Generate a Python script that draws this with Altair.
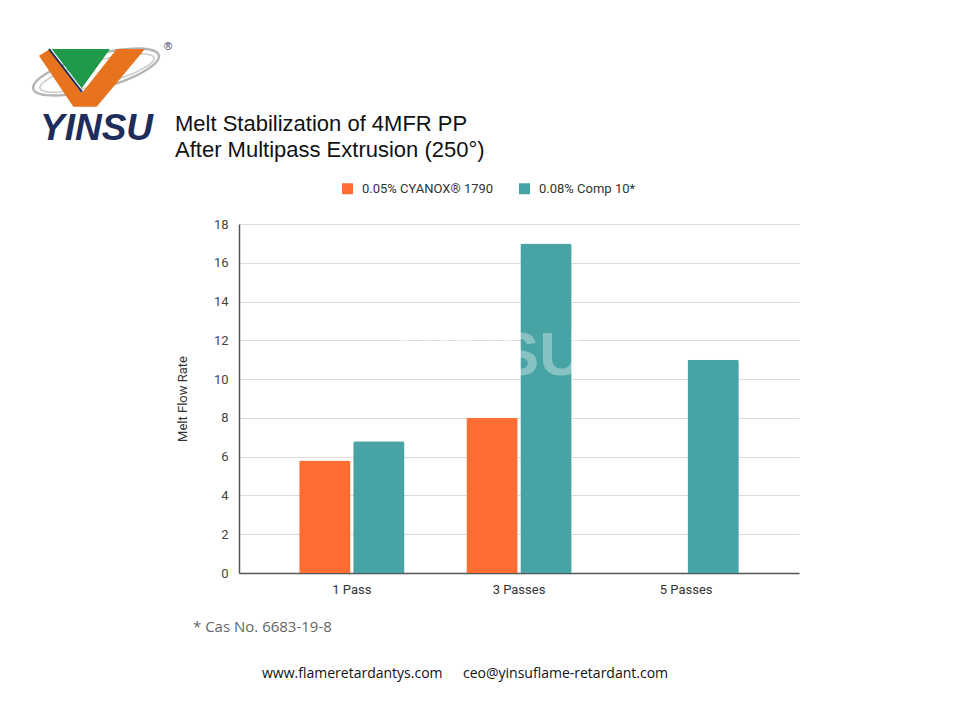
import altair as alt
import pandas as pd
import numpy as np

# ---- data ----
categories = ["1 Pass", "3 Passes", "5 Passes"]
series = ["0.05% CYANOX® 1790", "0.08% Comp 10*"]
cyanox_vals = [5.8, 8.0, None]
comp10_vals = [6.8, 17.0, 11.0]
colors = ["#FF6D33", "#48A3A5"]

title_lines = ["Melt Stabilization of 4MFR PP", "After Multipass Extrusion (250°)"]
y_title = "Melt Flow Rate"
footnote = "* Cas No. 6683-19-8"
footer_site = "www.flameretardantys.com"
footer_mail = "ceo@yinsuflame-retardant.com"
brand = "YINSU"

rows = []
for cat, a, b in zip(categories, cyanox_vals, comp10_vals):
    if a is not None:
        rows.append({"cat": cat, "series": series[0], "value": a})
    if b is not None:
        rows.append({"cat": cat, "series": series[1], "value": b})
df = pd.DataFrame(rows)

# plot origin on page is (239, 224)
OX, OY = 239, 224
W, H = 560, 349


def P(x, y):
    return f"{x - OX:.1f} {y - OY:.1f}"


bars = alt.Chart(df).mark_bar(cornerRadiusTopLeft=2, cornerRadiusTopRight=2).encode(
    x=alt.X("cat:N", sort=categories, title=None,
            scale=alt.Scale(paddingInner=0.37, paddingOuter=0.36),
            axis=alt.Axis(labelAngle=0, labelFontSize=13, labelColor="#333",
                          labelFont="Roboto", ticks=False, tickSize=0, labelPadding=10,
                          domainColor="#555", domainWidth=1.5, grid=False)),
    xOffset=alt.XOffset("series:N", sort=series,
                        scale=alt.Scale(paddingInner=0.05, paddingOuter=0)),
    y=alt.Y("value:Q", title=y_title,
            scale=alt.Scale(domain=[0, 18], nice=False),
            axis=alt.Axis(values=list(range(0, 19, 2)), labelFontSize=13, labelColor="#444",
                          labelFont="Roboto", ticks=False, tickSize=0, labelPadding=11,
                          domainColor="#555", domainWidth=1.5, gridColor="#DADADA",
                          titleFont="Roboto", titleFontSize=13, titleFontWeight="normal",
                          titleColor="#333", titlePadding=24)),
    color=alt.Color("series:N", sort=series,
                    scale=alt.Scale(domain=series, range=colors),
                    legend=alt.Legend(orient="none", legendX=102, legendY=-42,
                                      direction="horizontal", title=None,
                                      symbolType="square", symbolSize=121,
                                      symbolStrokeWidth=0, labelFont="Roboto",
                                      labelFontSize=13, labelColor="#333",
                                      labelOffset=8, columnPadding=24, padding=0)),
)

one = pd.DataFrame({"k": [0]})

# ---- logo (decoration) ----
def ellipse_path(cx, cy, rx, ry, deg):
    t = np.linspace(0, 2 * np.pi, 60)
    a = np.deg2rad(deg)
    xs = cx + rx * np.cos(t) * np.cos(a) - ry * np.sin(t) * np.sin(a)
    ys = cy + rx * np.cos(t) * np.sin(a) + ry * np.sin(t) * np.cos(a)
    pts = [P(x, y) for x, y in zip(xs, ys)]
    return "M" + " L".join(pts) + " Z"

swoosh1 = alt.Chart(one).mark_point(shape=ellipse_path(96, 72, 65, 17, -15), size=4,
                                    filled=False, stroke="#B5B5B5", strokeWidth=2.4,
                                    opacity=1).encode(x=alt.value(0), y=alt.value(0))
swoosh2 = alt.Chart(one).mark_point(shape=ellipse_path(97, 73, 59, 12, -15), size=4,
                                    filled=False, stroke="#CCCCCC", strokeWidth=1.6,
                                    opacity=1).encode(x=alt.value(0), y=alt.value(0))
v_path = ("M" + P(39, 55.7) + " L" + P(50, 49) + " L" + P(81.7, 93.3) + " L" + P(116.7, 49)
          + " L" + P(145, 49) + " L" + P(96.7, 106.7) + " L" + P(73.3, 106.7) + " Z")
v_shape = alt.Chart(one).mark_point(shape=v_path, size=4, filled=True, fill="#E8731E",
                                    strokeWidth=0, opacity=1).encode(x=alt.value(0), y=alt.value(0))
g_path = "M" + P(51.7, 49) + " L" + P(110, 49) + " L" + P(81.7, 88.3) + " Z"
g_shape = alt.Chart(one).mark_point(shape=g_path, size=4, filled=True, fill="#1E9A4A",
                                    strokeWidth=0, opacity=1).encode(x=alt.value(0), y=alt.value(0))
n_path = "M" + P(49, 49) + " L" + P(82, 92)
n_line = alt.Chart(one).mark_point(shape=n_path, size=4, filled=False, stroke="#1F2D5C",
                                   strokeWidth=2, opacity=1).encode(x=alt.value(0), y=alt.value(0))
reg = alt.Chart(one).mark_text(text="®", fontSize=11, color="#1F2D5C", align="center",
                               baseline="middle").encode(x=alt.value(168 - OX), y=alt.value(47 - OY))
brand_t = alt.Chart(one).mark_text(text=brand, font="Liberation Sans", fontSize=37,
                                   fontWeight="bold", fontStyle="italic", color="#1F2D5C",
                                   align="left", baseline="alphabetic").encode(
    x=alt.value(40 - OX), y=alt.value(140 - OY))

watermark = alt.Chart(one).mark_text(text=brand, font="Liberation Sans", fontSize=62,
                                     fontWeight="bold", color="white", opacity=0.35,
                                     align="right", baseline="alphabetic").encode(
    x=alt.value(584 - OX), y=alt.value(375 - OY))

title_t = alt.Chart(one).mark_text(text="\n".join(title_lines), lineBreak="\n", lineHeight=26,
                                   font="Liberation Sans", fontSize=22, color="#111",
                                   align="left", baseline="alphabetic").encode(
    x=alt.value(175 - OX), y=alt.value(131 - OY))

foot_t = alt.Chart(one).mark_text(text=footnote, font="Open Sans", fontSize=15, color="#666",
                                  align="left", baseline="alphabetic").encode(
    x=alt.value(193 - OX), y=alt.value(632 - OY))
site_t = alt.Chart(one).mark_text(text=footer_site, font="Open Sans", fontSize=14, color="#111",
                                  align="left", baseline="alphabetic").encode(
    x=alt.value(262 - OX), y=alt.value(678 - OY))
mail_t = alt.Chart(one).mark_text(text=footer_mail, font="Open Sans", fontSize=14, color="#111",
                                  align="left", baseline="alphabetic").encode(
    x=alt.value(463 - OX), y=alt.value(678 - OY))

chart = alt.layer(
    swoosh1, swoosh2, v_shape, g_shape, n_line, reg, brand_t,
    bars, watermark, title_t, foot_t, site_t, mail_t
).properties(
    width=W, height=H,
    background="white",
    autosize=alt.AutoSizeParams(type="none"),
    padding={"left": OX - 8, "top": OY - 8, "right": 140, "bottom": 125},
).configure_view(strokeWidth=0, stroke="transparent")

chart.save("out.html", embed_options={"renderer": "svg", "actions": False})
